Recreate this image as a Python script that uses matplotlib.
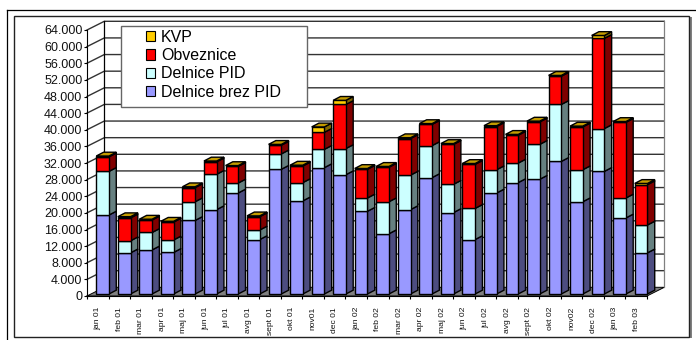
import numpy as np
import matplotlib
matplotlib.use("Agg")
import matplotlib.pyplot as plt
from matplotlib.patches import Rectangle, Polygon

plt.rcParams['font.family'] = ['Liberation Sans', 'DejaVu Sans']

months = ["jan 01", "feb 01", "mar 01", "apr 01", "maj 01", "jun 01", "jul 01", "avg 01",
          "sept 01", "okt 01", "nov01", "dec 01", "jan 02", "feb 02", "mar 02", "apr 02",
          "maj 02", "jun 02", "jul 02", "avg 02", "sept 02", "okt 02", "nov02", "dec 02",
          "jan 03", "feb 03"]

brez_pid = [19000, 9900, 10600, 10000, 17700, 20300, 24300, 13100, 30000, 22400, 30400, 28700, 19900,
            14500, 20300, 28000, 19600, 13100, 24300, 26800, 27600, 31900, 22200, 29500, 18300, 9900]
pid = [10500, 2900, 4200, 3000, 4500, 8500, 2400, 2300, 3700, 4400, 4400, 6300, 3200,
       7700, 8300, 7700, 6800, 7500, 5600, 4700, 8400, 13700, 7700, 10300, 4800, 6700]
obveznice = [3500, 5500, 3000, 4300, 3400, 3000, 4000, 3200, 2100, 4000, 4100, 10600, 6900,
             8300, 8800, 5100, 9600, 10600, 10400, 6700, 5400, 6800, 10300, 21700, 18200, 9700]
kvp = [200, 300, 200, 200, 200, 200, 200, 200, 200, 200, 1300, 1000, 200,
       200, 200, 200, 200, 200, 200, 200, 200, 200, 200, 700, 200, 300]

yticks = np.arange(0, 64001, 4000)
ylabels = [f"{v:,}".replace(",", ".") for v in yticks]

# name, front, side, top
series = [("Delnice brez PID", brez_pid, "#9999ff", "#4d4d80", "#7a7acc"),
          ("Delnice PID", pid, "#ccffff", "#668080", "#a3cccc"),
          ("Obveznice", obveznice, "#ff0000", "#800000", "#cc0000"),
          ("KVP", kvp, "#ffcc00", "#806600", "#c49c00")]

fig = plt.figure(figsize=(6.96, 3.40), dpi=100)
W, H = 696.0, 340.0

# page frame, behind the axes
fig.add_artist(plt.Line2D([6.5/W, 6.5/W], [0, 1-9.5/H], color="black", lw=0.9, zorder=-3))
fig.add_artist(plt.Line2D([6.5/W, 1], [1-9.5/H, 1-9.5/H], color="black", lw=0.9, zorder=-3))
fig.add_artist(Rectangle((15.5/W, 1-338/H), 676/W, 321/H, fc="#808080", ec="none", zorder=-2))
fig.add_artist(Rectangle((14/W, 1-336.5/H), 675/W, 320.5/H, fc="white", ec="#222222", lw=1.0, zorder=-1))

ax = fig.add_axes([87/W, 1-296/H, 560/W, 266/H])
ax.set_xlim(0, 26)
ax.set_ylim(0, 64000)
ax.patch.set_visible(False)
for s in ["top", "right"]:
    ax.spines[s].set_visible(False)

px = 26/560.0
py = 64000/266.0
depth_x = 17.3*px
depth_y = 8.7*py

# back wall + floor
ax.add_patch(Polygon([(0, 0), (depth_x, depth_y), (26+depth_x, depth_y), (26, 0)],
                     fc="#808080", ec="none", clip_on=False, zorder=1))
ax.plot([0, depth_x, 26+depth_x, 26, 0], [0, depth_y, depth_y, 0, 0], color="black", lw=0.7,
        clip_on=False, zorder=1)
for v in yticks[1:]:
    ax.plot([0, depth_x, 26+depth_x], [v, v+depth_y, v+depth_y], color="#333333", lw=1.0,
            clip_on=False, zorder=1)
ax.plot([depth_x, depth_x], [depth_y, 64000+depth_y], color="black", lw=0.9, clip_on=False, zorder=1)
ax.plot([26+depth_x, 26+depth_x], [depth_y, 64000+depth_y], color="#808080", lw=0.9, clip_on=False, zorder=1)

# bars
bw = 12.7*px
bar_dx = 7.3*px
bar_dy = 3.8*py
x0 = np.arange(26) + 0.5 + 4.85*px - bw/2
y_shift = 2.0*py
z = 2
for i in range(26):
    bottom = y_shift
    for name, vals, front, side, top in series:
        v = vals[i]
        ax.add_patch(Polygon([(x0[i]+bw, bottom), (x0[i]+bw+bar_dx, bottom+bar_dy),
                              (x0[i]+bw+bar_dx, bottom+v+bar_dy), (x0[i]+bw, bottom+v)],
                             fc=side, ec="black", lw=1.0, clip_on=False, zorder=z))
        ax.bar(x0[i], v, bw, bottom=bottom, align="edge", color=front, edgecolor="black",
               linewidth=1.0, clip_on=False, zorder=z)
        bottom += v
    ax.add_patch(Polygon([(x0[i], bottom), (x0[i]+bar_dx, bottom+bar_dy),
                          (x0[i]+bw+bar_dx, bottom+bar_dy), (x0[i]+bw, bottom)],
                         fc=series[-1][4], ec="black", lw=1.0, clip_on=False, zorder=z))
    z += 1

ax.set_yticks(yticks)
ax.set_yticklabels(ylabels, fontsize=9, color="#111111")
ax.tick_params(axis="y", length=2.2, width=0.8, pad=1.2)
ax.set_xticks(np.arange(27))
ax.set_xticklabels([])
ax.tick_params(axis="x", which="major", length=2.4, width=0.8)
ax.set_xticks(np.arange(26)+0.5, minor=True)
ax.set_xticklabels(months, minor=True, rotation=90, fontsize=6.1, color="#111111")
ax.tick_params(axis="x", which="minor", length=0, pad=8.0)

# legend box
fig.add_artist(Rectangle((120.5/W, 1-107/H), 186/W, 81/H, fc="white", ec="#666666", lw=1.0, zorder=50))
handles = [Rectangle((0, 0), 1, 1, fc=s[2], ec="black", lw=0.8) for s in series[::-1]]
leg = fig.legend(handles, [s[0] for s in series[::-1]], loc="upper left",
                 bbox_to_anchor=(141/W, 1-25/H), frameon=False, fontsize=11.5,
                 handlelength=0.6, handleheight=0.6, handletextpad=0.35,
                 labelspacing=0.21, borderpad=0.3, borderaxespad=0)
leg.set_zorder(51)

fig.savefig("out.png", dpi=100)
